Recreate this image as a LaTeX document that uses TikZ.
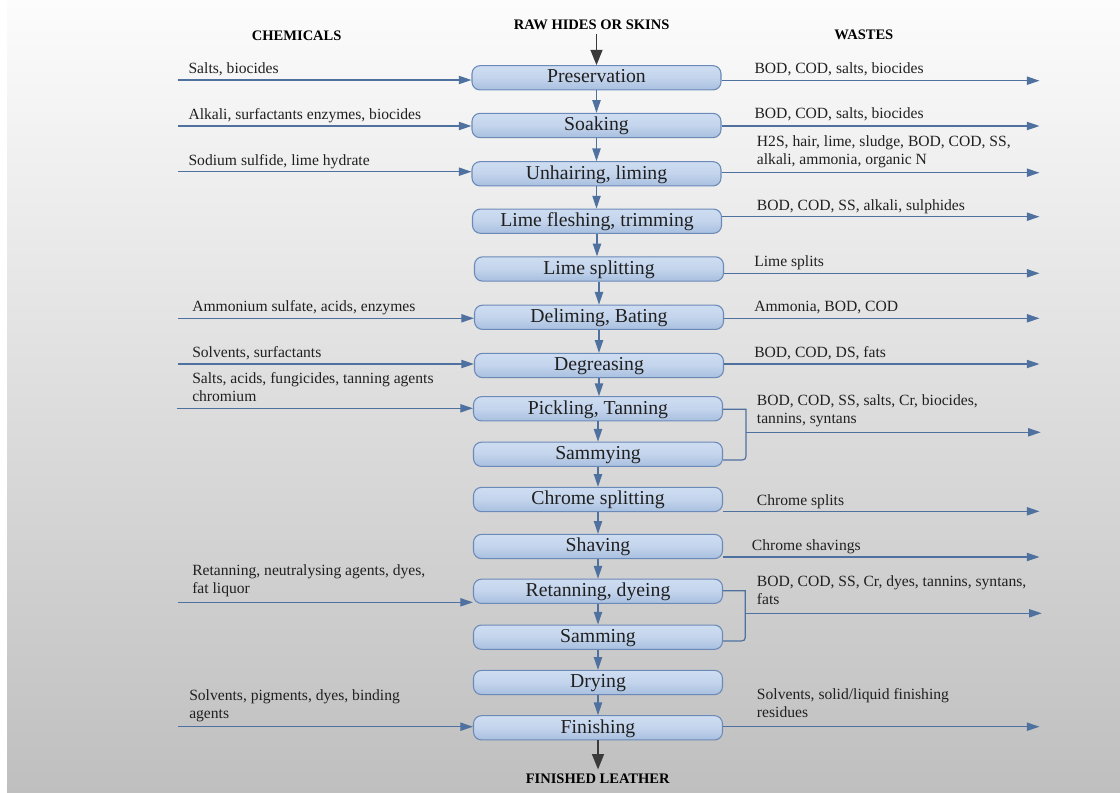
\documentclass[tikz,border=0pt]{standalone}
\usepackage{fontspec}
\setmainfont{Liberation Serif}
\usetikzlibrary{arrows.meta}

\definecolor{flowblue}{RGB}{79,113,160}
\definecolor{boxedge}{RGB}{108,138,184}
\definecolor{boxtop}{RGB}{206,221,241}
\definecolor{boxmid}{RGB}{195,212,236}
\definecolor{boxbot}{RGB}{168,191,223}
\definecolor{inktext}{RGB}{32,32,32}
\definecolor{feedink}{RGB}{58,58,58}
\definecolor{bgtop}{RGB}{252,252,252}
\definecolor{bgbot}{RGB}{191,191,191}

\newcommand\twolines[2]{\vtop{\hbox{#1}\hbox{#2}}}

\tikzset{
  stage/.style={draw=boxedge, line width=0.8pt, rounded corners=6pt,
    top color=boxtop, bottom color=boxbot, middle color=boxmid,
    minimum width=186.75pt, minimum height=18.2pt, inner sep=0pt,
    font=\fontsize{14.8}{16}\selectfont, text=inktext,
    text height=9.8pt, text depth=2pt},
  flow/.style={draw=flowblue, line width=0.9pt,
    -{Triangle[length=9.5pt,width=6.2pt]}},
  link/.style={draw=flowblue, line width=0.9pt},
  feed/.style={draw=feedink, line width=1.1pt,
    -{Triangle[length=11.5pt,width=9pt]}},
  heading/.style={anchor=base, inner sep=3pt, text=black,
    font=\fontsize{10.9}{12}\selectfont\bfseries},
  lab/.style={anchor=base west, inner sep=0pt, text=inktext,
    font=\fontsize{11.7}{13.9}\selectfont},
}

\begin{document}
\begin{tikzpicture}[x=0.75pt,y=-0.75pt]
\useasboundingbox (0,0) rectangle (1120,792);
% page background
\fill[white] (0,0) rectangle (1120,792);
\shade[top color=bgtop, bottom color=bgbot] (7,0) rectangle (1120,792);

% column headings
\node[heading] (hchem) at (296.7,40.7) {CHEMICALS};
\node[heading] (hraw) at (591.7,29.3) {RAW HIDES OR SKINS};
\node[heading] (hwaste) at (863.8,40) {WASTES};
\node[heading] (hfin) at (597.7,783.3) {FINISHED LEATHER};

% process stages
\node[stage] (s1)  at (596.5,77.8)  {Preservation};
\node[stage] (s2)  at (596.5,125.5) {Soaking};
\node[stage] (s3)  at (596.5,173.8) {Unhairing, liming};
\node[stage] (s4)  at (597,221.2)   {Lime fleshing, trimming};
\node[stage] (s5)  at (599,269)     {Lime splitting};
\node[stage] (s6)  at (599,317.3)   {Deliming, Bating};
\node[stage] (s7)  at (599,365.5)   {Degreasing};
\node[stage] (s8)  at (598,408.8)   {Pickling, Tanning};
\node[stage] (s9)  at (598,454.3)   {Sammying};
\node[stage] (s10) at (598,499.5)   {Chrome splitting};
\node[stage] (s11) at (598,546.5)   {Shaving};
\node[stage] (s12) at (598,591.3)   {Retanning, dyeing};
\node[stage] (s13) at (598,637.2)   {Samming};
\node[stage] (s14) at (598,682.5)   {Drying};
\node[stage] (s15) at (598,727.8)   {Finishing};

% main line
\draw[feed] (hraw.south -| s1.north) -- (s1.north);
\foreach \a/\b in {s1/s2,s2/s3,s3/s4,s4/s5,s5/s6,s6/s7,s7/s8,s8/s9,
                   s9/s10,s10/s11,s11/s12,s12/s13,s13/s14,s14/s15}
  \draw[flow] (\a.south) -- (\a.south |- \b.north);
\draw[feed] (s15.south) -- (s15.south |- hfin.north);

% chemicals fed in from the left
\coordinate (c1)  at (178,80);
\coordinate (c2)  at (178,126);
\coordinate (c3)  at (178,171.7);
\coordinate (c6)  at (178,318.3);
\coordinate (c7)  at (178,364);
\coordinate (c8)  at (176.7,408.3);
\coordinate (c12) at (178,602.3);
\coordinate (c15) at (178,726.7);
\foreach \n in {1,2,3,6,7,8,12,15}
  \draw[flow] (c\n) -- (c\n -| s\n.west);

\node[lab] (l1)  at (188.3,74)   {Salts, biocides};
\node[lab] (l2)  at (188.3,119.3) {Alkali, surfactants enzymes, biocides};
\node[lab] (l3)  at (188.3,165)  {Sodium sulfide, lime hydrate};
\node[lab] (l6)  at (192,311.7)  {Ammonium sulfate, acids, enzymes};
\node[lab] (l7)  at (192,357.7)  {Solvents, surfactants};
\node[lab] (l8)  at (192,383.3)  {\twolines{Salts, acids, fungicides, tanning agents}{chromium}};
\node[lab] (l12) at (192,575)    {\twolines{Retanning, neutralysing agents, dyes,}{fat liquor}};
\node[lab] (l15) at (189,700)    {\twolines{Solvents, pigments, dyes, binding}{agents}};

% wastes leaving to the right
\coordinate (w1)  at (1039.5,80.7);
\coordinate (w2)  at (1039.5,126);
\coordinate (w3)  at (1039.5,172.7);
\coordinate (w4)  at (1039.5,216.7);
\coordinate (w5)  at (1039.5,273.3);
\coordinate (w6)  at (1039.5,318.3);
\coordinate (w7)  at (1039.5,364);
\coordinate (w10) at (1039.5,511.3);
\coordinate (w11) at (1039.5,557);
\coordinate (w15) at (1039.5,726.7);
\foreach \n in {1,2,3,4,5,6,7,10,11,15}
  \draw[flow] (w\n -| s\n.east) -- (w\n);

% joint outlets of paired stages
\coordinate (ja) at (746,409.3);
\coordinate (jb) at (746,452);
\coordinate (jc) at (738,460);
\coordinate (jm) at (746,432.3);
\coordinate (jt) at (1040.7,432.3);
\draw[link] (ja -| s8.east) -- (ja) -- (jb) .. controls (746,460) .. (jc) -- (jc -| s9.east);
\draw[flow] (jm) -- (jt);

\coordinate (ka) at (745.3,590.7);
\coordinate (kb) at (745.3,633);
\coordinate (kc) at (737.3,641);
\coordinate (km) at (745.3,613.3);
\coordinate (kt) at (1041.7,613.3);
\draw[link] (ka -| s12.east) -- (ka) -- (kb) .. controls (745.3,641) .. (kc) -- (kc -| s13.east);
\draw[flow] (km) -- (kt);

\node[lab] (r1)  at (754.3,73.3)  {BOD, COD, salts, biocides};
\node[lab] (r2)  at (754.3,118.3) {BOD, COD, salts, biocides};
\node[lab] (r3)  at (756.7,146)   {\twolines{H2S, hair, lime, sludge, BOD, COD, SS,}{alkali, ammonia, organic N}};
\node[lab] (r4)  at (756.7,210)   {BOD, COD, SS, alkali, sulphides};
\node[lab] (r5)  at (754,266.7)   {Lime splits};
\node[lab] (r6)  at (754,311.7)   {Ammonia, BOD, COD};
\node[lab] (r7)  at (754,357)     {BOD, COD, DS, fats};
\node[lab] (r8)  at (756.7,405)   {\twolines{BOD, COD, SS, salts, Cr, biocides,}{tannins, syntans}};
\node[lab] (r10) at (756.7,505)   {Chrome splits};
\node[lab] (r11) at (751.7,550)   {Chrome shavings};
\node[lab] (r12) at (756.7,586)   {\twolines{BOD, COD, SS, Cr, dyes, tannins, syntans,}{fats}};
\node[lab] (r15) at (756.7,699.3) {\twolines{Solvents, solid/liquid finishing}{residues}};
\end{tikzpicture}
\end{document}
